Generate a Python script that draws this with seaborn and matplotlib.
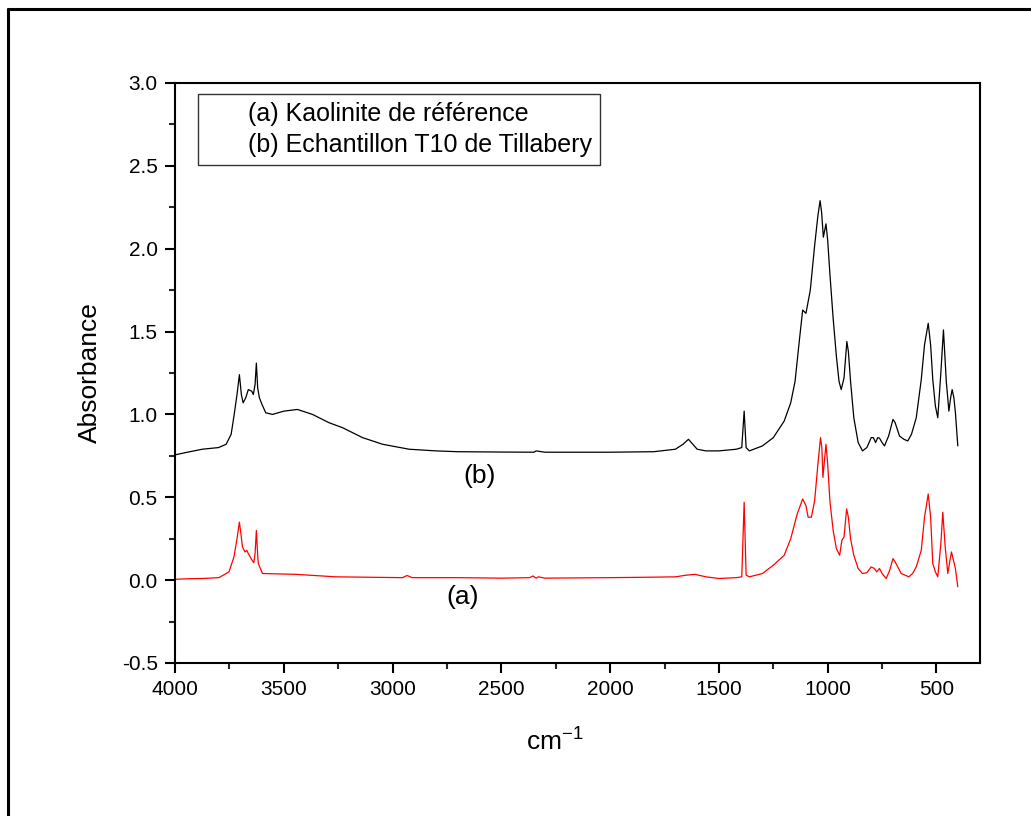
import pandas as pd
import seaborn as sns
import matplotlib.pyplot as plt
from matplotlib.lines import Line2D
from matplotlib.ticker import MultipleLocator

# Spectra (wavenumber in cm-1, absorbance)
wn_b = [4000, 3950, 3875, 3800, 3765, 3742, 3729, 3715, 3704, 3695, 3687, 3675, 3663, 3647,
        3640, 3632, 3626, 3620, 3612, 3600, 3583, 3552, 3499, 3437, 3368, 3292, 3230, 3138,
        3046, 2924, 2801, 2700, 2500, 2350, 2340, 2300, 2000, 1800, 1700, 1665, 1640, 1620,
        1600, 1560, 1500, 1420, 1395, 1384, 1375, 1360, 1300, 1250, 1200, 1170, 1150, 1130,
        1115, 1100, 1080, 1060, 1045, 1035, 1028, 1020, 1008, 1000, 990, 975, 960, 948, 938,
        925, 912, 905, 895, 880, 860, 840, 820, 800, 790, 780, 770, 762, 750, 739, 720, 700,
        690, 670, 650, 632, 615, 593, 570, 555, 538, 527, 517, 505, 494, 480, 468, 455, 443,
        435, 428, 420, 413, 402]
abs_b = [0.756, 0.77, 0.79, 0.80, 0.82, 0.88, 0.99, 1.12, 1.24, 1.12, 1.07, 1.10, 1.15, 1.14,
         1.12, 1.18, 1.31, 1.16, 1.10, 1.06, 1.01, 1.00, 1.02, 1.03, 1.00, 0.95, 0.92, 0.86,
         0.82, 0.79, 0.78, 0.775, 0.773, 0.772, 0.78, 0.772, 0.772, 0.775, 0.79, 0.82, 0.85, 0.82,
         0.79, 0.78, 0.78, 0.79, 0.80, 1.02, 0.80, 0.78, 0.81, 0.86, 0.96, 1.07, 1.20, 1.45,
         1.63, 1.61, 1.75, 2.02, 2.20, 2.29, 2.22, 2.07, 2.15, 2.05, 1.85, 1.58, 1.35, 1.20, 1.15,
         1.22, 1.44, 1.38, 1.20, 0.98, 0.83, 0.78, 0.80, 0.86, 0.86, 0.83, 0.86, 0.857, 0.83, 0.81, 0.87, 0.97,
         0.95, 0.87, 0.85, 0.84, 0.88, 0.98, 1.21, 1.42, 1.55, 1.42, 1.21, 1.05, 0.98, 1.25, 1.51, 1.20, 1.02,
         1.10, 1.15, 1.10, 1.01, 0.81]

wn_a = [4000, 3950, 3875, 3798, 3752, 3729, 3715, 3704, 3697, 3690, 3678, 3670, 3663, 3650,
        3638, 3632, 3626, 3620, 3617, 3598, 3445, 3261, 2955, 2933, 2910, 2700, 2500, 2370,
        2355, 2340, 2330, 2300, 2000, 1800, 1700, 1650, 1610, 1560, 1500, 1420, 1395, 1384,
        1375, 1360, 1300, 1250, 1200, 1170, 1140, 1115, 1100, 1090, 1075, 1060, 1045, 1033,
        1027, 1022, 1015, 1008, 1000, 990, 975, 960, 945, 935, 925, 913, 905, 895, 880, 860,
        840, 820, 800, 785, 775, 762, 750, 731, 715, 700, 690, 662, 627, 610, 593, 570, 555,
        538, 527, 517, 505, 494, 480, 471, 460, 448, 438, 431, 422, 413, 402]
abs_a = [0.005, 0.008, 0.01, 0.015, 0.05, 0.14, 0.25, 0.35, 0.28, 0.20, 0.17, 0.18, 0.16, 0.13,
         0.105, 0.16, 0.30, 0.15, 0.10, 0.04, 0.035, 0.02, 0.015, 0.028, 0.015, 0.015, 0.012, 0.015,
         0.025, 0.012, 0.02, 0.012, 0.015, 0.018, 0.02, 0.03, 0.035, 0.02, 0.01, 0.015, 0.02, 0.47,
         0.03, 0.02, 0.04, 0.09, 0.15, 0.25, 0.40, 0.49, 0.45, 0.38, 0.38, 0.48, 0.70, 0.86,
         0.80, 0.62, 0.72, 0.82, 0.70, 0.48, 0.30, 0.19, 0.15, 0.24, 0.26, 0.43, 0.38, 0.25, 0.15, 0.07,
         0.04, 0.045, 0.08, 0.07, 0.05, 0.07, 0.04, 0.01, 0.06, 0.13, 0.11, 0.04, 0.02, 0.04, 0.08, 0.18, 0.38,
         0.52, 0.38, 0.10, 0.05, 0.02, 0.22, 0.41, 0.20, 0.04, 0.12, 0.17, 0.12, 0.07, -0.04]

legend_labels = ["(a) Kaolinite de référence", "(b) Echantillon T10 de Tillabery"]

df = pd.concat([
    pd.DataFrame({"wn": wn_a, "absorbance": abs_a, "sample": "(a)"}),
    pd.DataFrame({"wn": wn_b, "absorbance": abs_b, "sample": "(b)"}),
])

sns.set_style("ticks")
plt.rcParams["font.family"] = ["Liberation Sans", "DejaVu Sans"]
plt.rcParams["mathtext.fontset"] = "custom"
plt.rcParams["mathtext.rm"] = "Liberation Sans"
plt.rcParams["mathtext.default"] = "rm"
plt.rcParams["text.color"] = "black"
plt.rcParams["axes.labelcolor"] = "black"

fig = plt.figure(figsize=(10.31, 8.16), dpi=100)
ax = fig.add_axes([175 / 1031, 1 - 663 / 816, 805 / 1031, 580 / 816])

sns.lineplot(data=df, x="wn", y="absorbance", hue="sample", sort=False,
             palette={"(a)": "#ff0000", "(b)": "black"}, linewidth=0.9,
             legend=False, ax=ax, estimator=None)

ax.set_xlim(4000, 300)
ax.set_ylim(-0.5, 3.0)
ax.set_xticks([4000, 3500, 3000, 2500, 2000, 1500, 1000, 500])
ax.set_yticks([-0.5, 0, 0.5, 1.0, 1.5, 2.0, 2.5, 3.0])
ax.set_yticklabels(["-0.5", "0.0", "0.5", "1.0", "1.5", "2.0", "2.5", "3.0"])
ax.xaxis.set_minor_locator(MultipleLocator(250))
ax.yaxis.set_minor_locator(MultipleLocator(0.25))

for s in ax.spines.values():
    s.set_visible(True)
    s.set_linewidth(1.5)
    s.set_color("black")
ax.tick_params(which="major", direction="out", length=7.5, width=1.5, labelsize=15, pad=5, colors="black")
ax.tick_params(which="minor", direction="out", length=4, width=1.5)

ax.set_xlabel("cm$^{-1}$", fontsize=19)
ax.xaxis.set_label_coords(0.472, -0.112)
ax.set_ylabel("Absorbance", fontsize=19, labelpad=14)

ax.text(2602, 0.63, "(b)", fontsize=19, ha="center", va="center")
ax.text(2680, -0.10, "(a)", fontsize=19, ha="center", va="center")

handles = [Line2D([], [], color="none") for _ in legend_labels]
leg = ax.legend(handles, legend_labels, loc="upper left", bbox_to_anchor=(0.0286, 0.981),
                borderaxespad=0, frameon=True, fancybox=False, fontsize=18,
                handlelength=1.3, handletextpad=0.4, borderpad=0.3, labelspacing=0.3)
leg.get_frame().set_edgecolor("black")
leg.get_frame().set_linewidth(1.0)

# outer frame of the original figure (open on right and bottom)
fig.add_artist(Line2D([8 / 1031, 8 / 1031], [0, 1 - 8.5 / 816], color="black", linewidth=2.2,
                      transform=fig.transFigure))
fig.add_artist(Line2D([8 / 1031, 1], [1 - 8.5 / 816, 1 - 8.5 / 816], color="black", linewidth=2.2,
                      transform=fig.transFigure))

fig.savefig("out.png", dpi=100)
